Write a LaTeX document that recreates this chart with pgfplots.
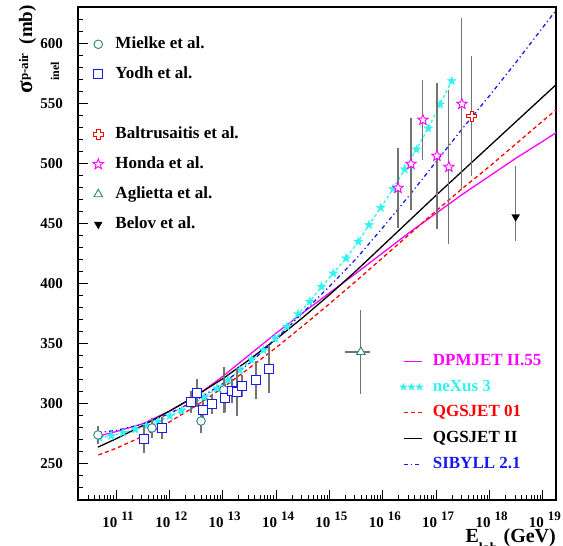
\documentclass[border=0pt]{standalone}
\usepackage{pgfplots}
\pgfplotsset{compat=1.18}
\usepackage{fontspec}
\setmainfont{Liberation Serif}
\usetikzlibrary{plotmarks}

\definecolor{tealc}{rgb}{0.18,0.5,0.5}
\definecolor{cyanc}{rgb}{0.2,0.95,0.95}
\definecolor{errg}{rgb}{0.45,0.45,0.45}
\definecolor{bluec}{rgb}{0.1,0.1,0.95}
\definecolor{magc}{rgb}{1,0,1}
\definecolor{redc}{rgb}{1,0,0}

\pgfdeclareplotmark{ocross}{%
  \pgfpathmoveto{\pgfqpoint{-0.35\pgfplotmarksize}{\pgfplotmarksize}}%
  \pgfpathlineto{\pgfqpoint{0.35\pgfplotmarksize}{\pgfplotmarksize}}%
  \pgfpathlineto{\pgfqpoint{0.35\pgfplotmarksize}{0.35\pgfplotmarksize}}%
  \pgfpathlineto{\pgfqpoint{\pgfplotmarksize}{0.35\pgfplotmarksize}}%
  \pgfpathlineto{\pgfqpoint{\pgfplotmarksize}{-0.35\pgfplotmarksize}}%
  \pgfpathlineto{\pgfqpoint{0.35\pgfplotmarksize}{-0.35\pgfplotmarksize}}%
  \pgfpathlineto{\pgfqpoint{0.35\pgfplotmarksize}{-\pgfplotmarksize}}%
  \pgfpathlineto{\pgfqpoint{-0.35\pgfplotmarksize}{-\pgfplotmarksize}}%
  \pgfpathlineto{\pgfqpoint{-0.35\pgfplotmarksize}{-0.35\pgfplotmarksize}}%
  \pgfpathlineto{\pgfqpoint{-\pgfplotmarksize}{-0.35\pgfplotmarksize}}%
  \pgfpathlineto{\pgfqpoint{-\pgfplotmarksize}{0.35\pgfplotmarksize}}%
  \pgfpathlineto{\pgfqpoint{-0.35\pgfplotmarksize}{0.35\pgfplotmarksize}}%
  \pgfpathclose
  \pgfusepathqfillstroke
}
\pgfdeclareplotmark{fstar}{%
  \pgfpathmoveto{\pgfqpointpolar{90}{\pgfplotmarksize}}%
  \pgfpathlineto{\pgfqpointpolar{126}{0.42\pgfplotmarksize}}%
  \pgfpathlineto{\pgfqpointpolar{162}{\pgfplotmarksize}}%
  \pgfpathlineto{\pgfqpointpolar{198}{0.42\pgfplotmarksize}}%
  \pgfpathlineto{\pgfqpointpolar{234}{\pgfplotmarksize}}%
  \pgfpathlineto{\pgfqpointpolar{270}{0.42\pgfplotmarksize}}%
  \pgfpathlineto{\pgfqpointpolar{306}{\pgfplotmarksize}}%
  \pgfpathlineto{\pgfqpointpolar{342}{0.42\pgfplotmarksize}}%
  \pgfpathlineto{\pgfqpointpolar{18}{\pgfplotmarksize}}%
  \pgfpathlineto{\pgfqpointpolar{54}{0.42\pgfplotmarksize}}%
  \pgfpathclose
  \pgfusepathqfillstroke
}

\newcommand\xtl[1]{\fontsize{15}{15}\selectfont\bfseries 10\kern4pt\raisebox{7pt}{\fontsize{13}{13}\selectfont\bfseries #1}}

\pgfplotsset{
  base/.style={
    scale only axis, width=478pt, height=493pt,
    xmin=10.288, xmax=19.244, ymin=220, ymax=630.8,
    clip=false,
  }
}

\begin{document}
\begin{tikzpicture}
\useasboundingbox (-78pt,-46pt) rectangle (485pt,500pt);
\begin{axis}[base,
  axis line style={line width=1.1pt},
  xtick={11,12,13,14,15,16,17,18,19},
  xticklabels={\xtl{11},\xtl{12},\xtl{13},\xtl{14},\xtl{15},\xtl{16},\xtl{17},\xtl{18},\xtl{19}},
  minor xtick={10.301,10.477,10.602,10.699,10.778,10.845,10.903,10.954,
    11.301,11.477,11.602,11.699,11.778,11.845,11.903,11.954,
    12.301,12.477,12.602,12.699,12.778,12.845,12.903,12.954,
    13.301,13.477,13.602,13.699,13.778,13.845,13.903,13.954,
    14.301,14.477,14.602,14.699,14.778,14.845,14.903,14.954,
    15.301,15.477,15.602,15.699,15.778,15.845,15.903,15.954,
    16.301,16.477,16.602,16.699,16.778,16.845,16.903,16.954,
    17.301,17.477,17.602,17.699,17.778,17.845,17.903,17.954,
    18.301,18.477,18.602,18.699,18.778,18.845,18.903,18.954},
  ytick={250,300,350,400,450,500,550,600},
  minor ytick={230,240,...,630},
  tick align=inside,
  xtick pos=bottom, ytick pos=left,
  major tick length=10pt, minor tick length=5pt,
  every tick/.style={black, line width=1pt},
  /pgf/number format/assume math mode=true,
  yticklabel style={anchor=east, inner sep=0pt, xshift=-15pt, font=\fontsize{15}{15}\selectfont\bfseries},
  xticklabel style={anchor=north, inner sep=0pt, yshift=-12pt, xshift=2pt},
  ylabel={{\fontsize{23}{23}\selectfont σ}\rlap{\raisebox{-27pt}{\fontsize{12}{12}\selectfont inel}}\raisebox{4pt}{\fontsize{13}{13}\selectfont p-air}\kern9pt(mb)},
  ylabel style={font=\fontsize{19}{19}\selectfont\bfseries, at={(rel axis cs:-0.0962,1.004)}, anchor=base east, inner sep=0pt},
  xlabel={E\raisebox{-10pt}{\fontsize{14}{14}\selectfont lab}\kern6pt(GeV)},
  xlabel style={font=\fontsize{20}{20}\selectfont\bfseries, at={(rel axis cs:1,-0.086)}, anchor=base east, inner sep=0pt},
  legend style={draw=none, fill=none, at={(rel axis cs:0.6736,0.298)}, anchor=north west, inner sep=0pt,
    row sep=9.75pt, column sep=10pt, font=\fontsize{17}{17}\selectfont\bfseries,
    nodes={inner sep=0pt, text height=12pt, text depth=4pt}},
  legend cell align=left,
  legend image code/.code={\draw (0pt,0pt) -- (18pt,0pt);},
]
\addplot[magc, line width=1.3pt,
  legend image code/.code={\draw[magc, line width=1.4pt, solid] (0pt,0pt) -- (18pt,0pt);}] coordinates {
(10.66,273) (11.0,277) (11.5,283.5) (12.0,294) (12.5,306.5) (13.0,323) (13.5,341) (14.0,359)
(14.5,376) (15.0,392.5) (15.5,409) (16.0,426) (16.5,443) (17.0,459) (17.5,475) (18.0,490)
(18.5,505) (19.0,519) (19.244,526)};
\addlegendentry{\textcolor{magc}{DPMJET II.55}}
\addplot[cyanc, line width=1.3pt, dash pattern=on 3pt off 2.5pt, mark=fstar, mark size=4.5pt,
  mark options={solid, fill=cyanc, draw=cyanc, line width=0.4pt},
  legend image code/.code={\draw[only marks, mark size=3.5pt] plot coordinates {(0pt,0pt)(8pt,0pt)(16pt,0pt)};}] coordinates {
(10.69,271.9) (10.91,273.6) (11.13,276.1) (11.36,278.9) (11.57,281.9) (11.79,285.3) (12.01,290)
(12.23,294.4) (12.44,300.6) (12.65,305.3) (12.89,313) (13.10,320) (13.32,328.3) (13.54,337.2)
(13.76,345) (13.98,354.7) (14.20,364.4) (14.41,375) (14.63,385.3) (14.85,397.7) (15.07,408.9)
(15.31,421.4) (15.54,435.3) (15.74,449.2) (15.96,463.5) (16.19,479.3) (16.41,495.6) (16.63,512.2)
(16.85,529.7) (17.07,549.7) (17.29,569.2)};
\addlegendentry{\textcolor{cyanc}{neXus 3}}
\addplot[redc, line width=1.3pt, dash pattern=on 4pt off 3pt] coordinates {
(10.67,257.5) (11.0,263) (11.5,273) (12.0,285) (12.5,298.5) (13.0,313.5) (13.5,330) (14.0,347)
(14.5,365) (15.0,383.5) (15.5,402.5) (16.0,422) (16.5,441.5) (17.0,461) (17.5,480) (18.0,498)
(18.5,517) (19.0,536) (19.244,545)};
\addlegendentry{\textcolor{redc}{QGSJET 01}}
\addplot[black, line width=1.3pt] coordinates {
(10.66,264) (11.0,271) (11.5,282) (12.0,294) (12.5,307) (13.0,321) (13.5,337) (14.0,354)
(14.5,372) (15.0,391) (15.5,411) (16.0,432) (16.5,453) (17.0,474) (17.5,494.5) (18.0,515)
(18.5,535.5) (19.0,556) (19.244,566)};
\addlegendentry{QGSJET II}
\addplot[bluec, line width=1.3pt, dash pattern=on 4pt off 3pt on 1.2pt off 3pt] coordinates {
(10.66,276) (11.0,278) (11.5,283) (12.0,292) (12.5,303) (13.0,317) (13.5,334) (14.0,354)
(14.5,376) (15.0,398) (15.5,421) (16.0,447) (16.5,474) (17.0,502) (17.5,530) (18.0,557)
(18.5,585) (19.0,614) (19.244,628)};
\addlegendentry{\textcolor{bluec}{SIBYLL 2.1}}
\end{axis}

\begin{axis}[base, hide axis,
  legend style={draw=none, fill=none, at={(rel axis cs:0.031,0.941)}, anchor=north west, inner sep=0pt,
    row sep=14pt, column sep=12pt, font=\fontsize{17}{17}\selectfont\bfseries,
    nodes={inner sep=0pt, text height=12pt, text depth=4pt}},
  legend cell align=left,
  legend image code/.code={\draw[only marks] plot coordinates {(0pt,0pt)};},
  error bars/error bar style={errg, line width=1.2pt},
  error bars/error mark=none,
]
\addplot[only marks, tealc, mark=*, mark size=4.3pt, mark options={fill=white, line width=0.9pt},
  error bars/.cd, y dir=both, y explicit] coordinates {
(10.663,274.2) +- (0,7.5)
(11.674,280) +- (0,8)
(12.593,285.8) +- (0,10)
(13.023,311.7) +- (0,19)};
\addlegendentry{Mielke et al.}
\addplot[only marks, bluec, mark=square*, mark size=4.5pt, mark options={fill=white, line width=0.9pt},
  error bars/.cd, y dir=both, y explicit] coordinates {
(11.525,270.8) +- (0,12)
(11.862,280) +- (0,9)
(12.405,301.7) +- (0,9)
(12.518,309.2) +- (0,12)
(12.630,295) +- (0,8)
(12.799,300) +- (0,8)
(13.042,305) +- (0,12)
(13.173,310.8) +- (0,10)
(13.267,310) +- (0,20)
(13.361,315) +- (0,9)
(13.623,320) +- (0,16)
(13.866,329.2) +- (0,20)};
\addlegendentry{Yodh et al.}
\addlegendimage{empty legend}
\addlegendentry{\phantom{X}}
\addplot[only marks, redc, mark=ocross, mark size=5pt, mark options={fill=white, line width=0.9pt},
  error bars/.cd, y dir=both, y explicit] coordinates {
(17.667,540) +- (0,50)};
\addlegendentry{Baltrusaitis et al.}
\addplot[only marks, magc, mark=fstar, mark size=5.5pt, mark options={fill=white, line width=0.9pt},
  error bars/.cd, y dir=both, y explicit] coordinates {
(16.283,480) +- (0,33)
(16.526,500) +- (0,38)
(16.750,536.7) +- (0,33)
(17.013,506.7) +- (0,61)
(17.237,497.5) +- (0,64)
(17.480,550) +- (0,72)};
\addlegendentry{Honda et al.}
\addplot[only marks, tealc, mark=triangle*, mark size=5pt, mark options={fill=white, line width=0.9pt},
  error bars/.cd, y dir=both, y explicit, x dir=both, x explicit] coordinates {
(15.588,343.3) += (0.18,35) -= (0.30,35)};
\addlegendentry{Aglietta et al.}
\addplot[only marks, black, mark=triangle*, mark size=4.5pt, mark options={fill=black, rotate=180},
  error bars/.cd, y dir=both, y explicit] coordinates {
(18.488,456) += (0,42) -= (0,20)};
\addlegendentry{Belov et al.}
\end{axis}
\end{tikzpicture}
\end{document}
